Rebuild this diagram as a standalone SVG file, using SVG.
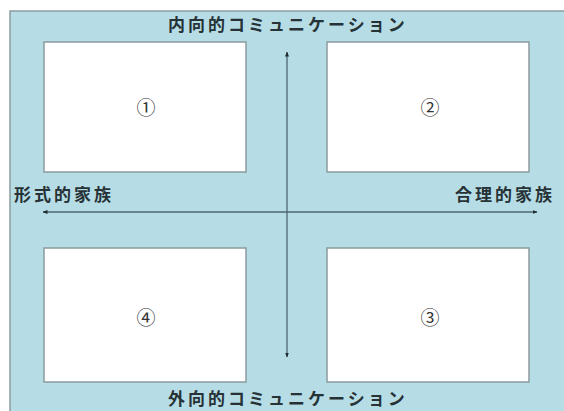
<svg xmlns="http://www.w3.org/2000/svg" width="564" height="411" viewBox="0 0 564 411">
<style>
.box{fill:#ffffff;stroke:#8c9a9e;stroke-width:1.5}
.lbl{font-family:"Noto Sans CJK JP","Noto Sans",sans-serif;font-weight:bold;font-size:17px;letter-spacing:3px;fill:#263236}
.num{font-family:"Noto Sans CJK JP","DejaVu Sans",sans-serif;font-size:19px;fill:#333;text-anchor:middle}
.ax{stroke:#4d6770;stroke-width:1.3;fill:none;marker-start:url(#ah);marker-end:url(#ah)}
</style>
<defs>
<marker id="ah" viewBox="0 0 10 10" refX="9" refY="5" markerWidth="5" markerHeight="5" orient="auto-start-reverse" markerUnits="userSpaceOnUse">
<path d="M0,1 L10,5 L0,9 z" fill="#1e2b30"/>
</marker>
</defs>
<rect width="564" height="411" fill="#ffffff"/>
<rect x="10" y="11" width="560" height="410" fill="#b6dde6" stroke="#8a9ca2" stroke-width="1.5"/>
<g id="labels">
<text class="lbl" x="168" y="31">内向的コミュニケーション</text>
<text class="lbl" x="168" y="405">外向的コミュニケーション</text>
<text class="lbl" x="14" y="201">形式的家族</text>
<text class="lbl" x="455" y="201">合理的家族</text>
</g>
<g id="connectors">
<line class="ax" x1="287" y1="52" x2="287" y2="357"/>
<line class="ax" x1="43" y1="212" x2="537" y2="212"/>
</g>
<g id="node1"><rect class="box" x="44" y="42" width="202" height="130"/><text class="num" x="146" y="115">①</text></g>
<g id="node2"><rect class="box" x="327" y="42" width="202" height="130"/><text class="num" x="430" y="115">②</text></g>
<g id="node4"><rect class="box" x="44" y="248" width="202" height="134"/><text class="num" x="146" y="325">④</text></g>
<g id="node3"><rect class="box" x="327" y="248" width="202" height="134"/><text class="num" x="430" y="325">③</text></g>
</svg>
